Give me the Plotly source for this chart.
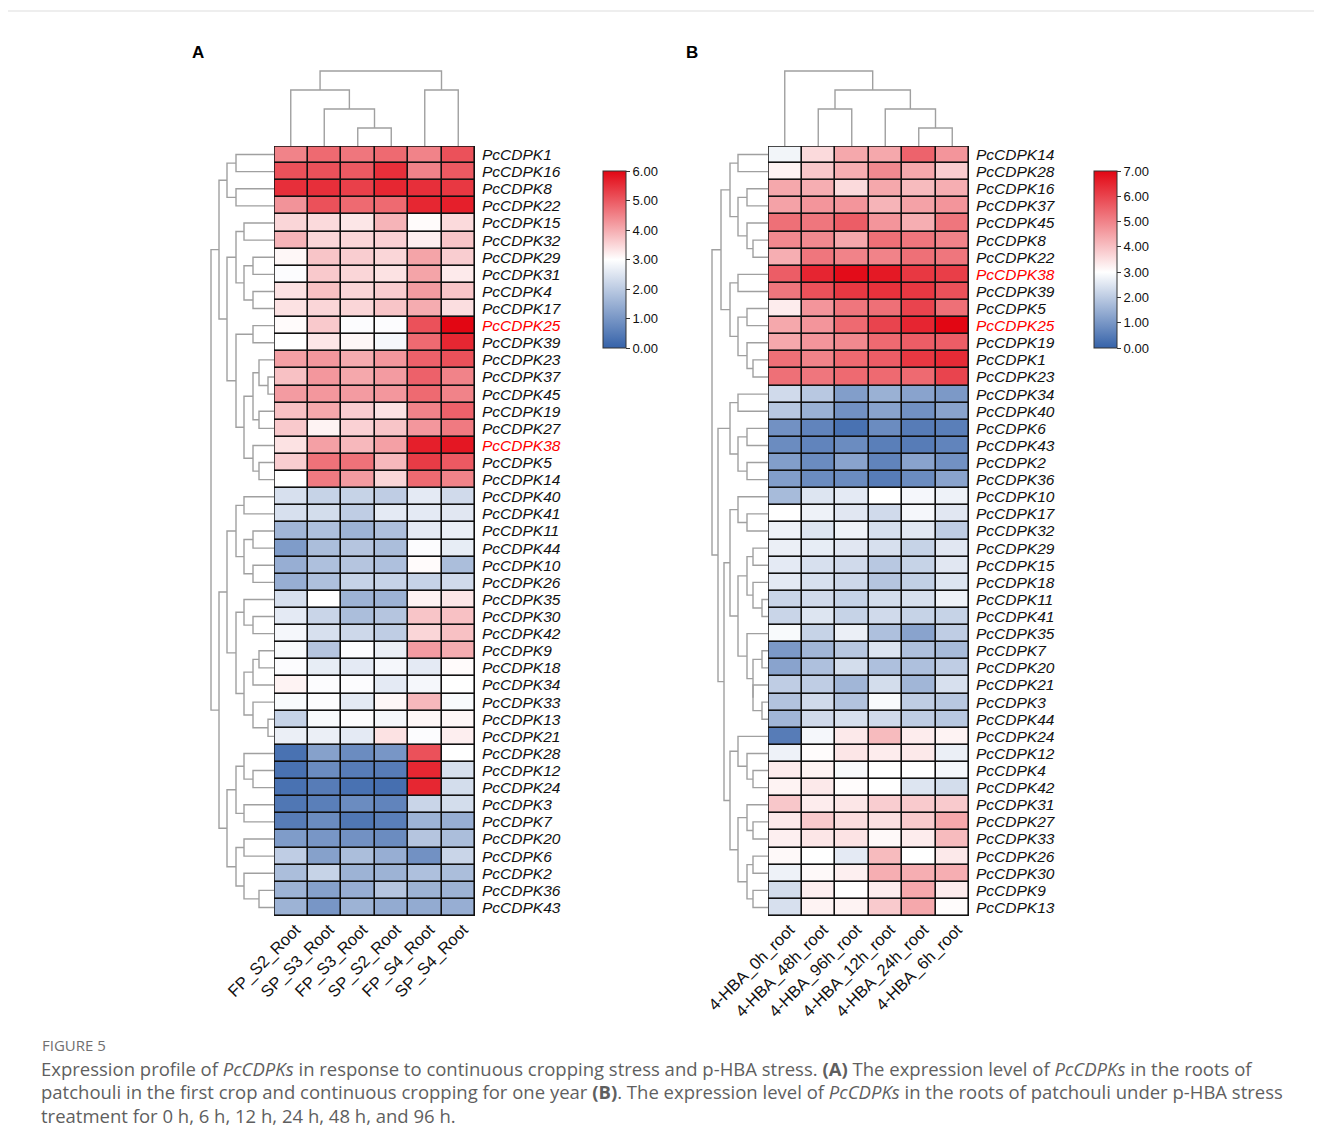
import plotly.graph_objects as go

# ---------------- DATA ----------------
genes_A = ["PcCDPK1", "PcCDPK16", "PcCDPK8", "PcCDPK22", "PcCDPK15", "PcCDPK32", "PcCDPK29", "PcCDPK31",
           "PcCDPK4", "PcCDPK17", "PcCDPK25", "PcCDPK39", "PcCDPK23", "PcCDPK37", "PcCDPK45", "PcCDPK19",
           "PcCDPK27", "PcCDPK38", "PcCDPK5", "PcCDPK14", "PcCDPK40", "PcCDPK41", "PcCDPK11", "PcCDPK44",
           "PcCDPK10", "PcCDPK26", "PcCDPK35", "PcCDPK30", "PcCDPK42", "PcCDPK9", "PcCDPK18", "PcCDPK34",
           "PcCDPK33", "PcCDPK13", "PcCDPK21", "PcCDPK28", "PcCDPK12", "PcCDPK24", "PcCDPK3", "PcCDPK7",
           "PcCDPK20", "PcCDPK6", "PcCDPK2", "PcCDPK36", "PcCDPK43"]
samples_A = ["FP_S2_Root", "SP_S3_Root", "FP_S3_Root", "SP_S2_Root", "FP_S4_Root", "SP_S4_Root"]
values_A = [
    [4.5, 4.8, 4.65, 4.8, 4.5, 5.1],
    [5.1, 5.1, 5.0, 5.5, 4.5, 5.0],
    [5.5, 5.5, 5.3, 5.6, 5.5, 5.4],
    [4.3, 5.1, 4.8, 4.8, 5.6, 5.7],
    [3.5, 3.45, 3.3, 3.9, 3.05, 3.45],
    [3.9, 3.5, 3.5, 3.55, 3.2, 3.7],
    [3.1, 3.7, 3.6, 3.5, 4.1, 3.6],
    [2.95, 3.65, 3.5, 3.35, 4.1, 3.25],
    [3.35, 3.75, 3.5, 3.6, 4.2, 3.7],
    [3.35, 3.5, 3.5, 3.7, 4.0, 3.4],
    [3.05, 3.65, 2.95, 2.95, 5.1, 6.0],
    [3.0, 3.3, 3.1, 2.85, 4.8, 5.6],
    [4.15, 4.25, 4.0, 4.25, 4.9, 5.1],
    [3.75, 4.25, 4.05, 4.2, 4.9, 4.5],
    [4.2, 4.25, 4.2, 4.25, 4.8, 4.5],
    [3.75, 4.05, 3.6, 3.35, 4.5, 4.9],
    [3.65, 3.15, 3.55, 3.7, 4.25, 4.6],
    [3.35, 4.15, 3.85, 4.15, 5.7, 5.8],
    [3.6, 4.7, 4.7, 3.85, 5.35, 5.0],
    [3.0, 4.6, 4.2, 3.5, 4.8, 4.5],
    [2.4, 2.15, 2.15, 2.05, 2.6, 2.3],
    [2.4, 2.35, 2.05, 2.6, 2.6, 2.55],
    [1.6, 1.8, 1.55, 1.8, 2.6, 2.7],
    [1.1, 1.75, 1.9, 1.75, 2.95, 2.65],
    [1.45, 1.8, 1.9, 1.8, 3.05, 1.75],
    [1.45, 1.8, 2.15, 2.15, 2.15, 2.3],
    [2.4, 3.0, 1.55, 1.55, 3.15, 3.3],
    [2.6, 2.2, 1.75, 1.9, 3.7, 3.75],
    [2.85, 2.4, 2.25, 2.05, 3.5, 3.75],
    [2.9, 1.9, 2.95, 2.7, 4.2, 4.0],
    [2.95, 2.65, 2.6, 2.85, 2.6, 3.05],
    [3.15, 2.95, 2.95, 2.6, 2.85, 3.0],
    [2.9, 2.95, 2.6, 3.1, 3.85, 2.9],
    [2.15, 2.9, 2.95, 2.85, 3.1, 3.1],
    [2.7, 2.7, 2.6, 3.35, 2.95, 3.2],
    [0.3, 1.2, 0.8, 1.0, 5.1, 3.0],
    [0.3, 0.8, 0.5, 0.5, 5.6, 2.4],
    [0.3, 0.5, 0.3, 0.25, 5.6, 2.35],
    [0.4, 0.55, 0.8, 0.65, 2.2, 2.35],
    [0.5, 0.8, 0.4, 0.55, 1.55, 1.45],
    [1.1, 1.0, 0.9, 0.8, 1.9, 1.75],
    [2.05, 1.2, 1.75, 1.45, 0.9, 2.2],
    [1.75, 2.15, 1.55, 1.55, 1.8, 1.75],
    [1.55, 1.2, 1.45, 1.9, 1.55, 1.55],
    [1.55, 1.0, 1.55, 1.4, 1.4, 1.45],
]

genes_B = ["PcCDPK14", "PcCDPK28", "PcCDPK16", "PcCDPK37", "PcCDPK45", "PcCDPK8", "PcCDPK22", "PcCDPK38",
           "PcCDPK39", "PcCDPK5", "PcCDPK25", "PcCDPK19", "PcCDPK1", "PcCDPK23", "PcCDPK34", "PcCDPK40",
           "PcCDPK6", "PcCDPK43", "PcCDPK2", "PcCDPK36", "PcCDPK10", "PcCDPK17", "PcCDPK32", "PcCDPK29",
           "PcCDPK15", "PcCDPK18", "PcCDPK11", "PcCDPK41", "PcCDPK35", "PcCDPK7", "PcCDPK20", "PcCDPK21",
           "PcCDPK3", "PcCDPK44", "PcCDPK24", "PcCDPK12", "PcCDPK4", "PcCDPK42", "PcCDPK31", "PcCDPK27",
           "PcCDPK33", "PcCDPK26", "PcCDPK30", "PcCDPK9", "PcCDPK13"]
samples_B = ["4-HBA_0h_root", "4-HBA_48h_root", "4-HBA_96h_root", "4-HBA_12h_root", "4-HBA_24h_root",
             "4-HBA_6h_root"]
values_B = [
    [2.8, 3.6, 4.4, 4.4, 5.5, 4.7],
    [3.2, 3.9, 4.3, 4.9, 4.4, 3.8],
    [4.4, 4.3, 3.6, 4.4, 4.1, 4.3],
    [4.5, 4.7, 4.7, 4.2, 4.5, 4.7],
    [5.3, 5.2, 5.6, 4.7, 4.3, 5.2],
    [4.9, 4.9, 4.4, 5.3, 5.2, 5.0],
    [4.3, 5.2, 5.0, 5.0, 5.3, 5.2],
    [5.6, 6.5, 6.9, 6.7, 6.2, 6.1],
    [5.2, 5.8, 6.2, 6.3, 6.2, 5.8],
    [3.3, 4.7, 5.2, 5.3, 6.0, 5.3],
    [4.4, 4.7, 5.4, 6.0, 6.5, 7.0],
    [4.4, 4.7, 4.9, 5.4, 5.6, 5.6],
    [5.3, 5.0, 5.4, 5.6, 6.2, 6.4],
    [5.3, 5.2, 5.4, 5.4, 5.4, 6.0],
    [2.3, 1.95, 1.15, 1.5, 1.25, 1.05],
    [1.95, 1.5, 0.9, 1.25, 0.9, 1.25],
    [0.9, 0.65, 0.3, 0.8, 0.5, 0.55],
    [0.8, 0.65, 0.8, 0.55, 0.5, 0.65],
    [1.15, 0.8, 1.25, 0.65, 1.25, 0.9],
    [1.15, 0.8, 0.8, 0.5, 0.8, 1.25],
    [1.7, 2.5, 2.6, 3.0, 2.85, 2.75],
    [3.0, 2.75, 2.55, 2.3, 2.85, 2.55],
    [2.75, 2.5, 2.75, 2.4, 2.55, 2.05],
    [2.7, 2.65, 2.55, 2.4, 2.15, 2.55],
    [2.6, 2.4, 2.3, 1.95, 2.15, 2.55],
    [2.6, 2.4, 2.25, 1.9, 2.1, 2.5],
    [2.2, 2.3, 2.15, 2.35, 2.4, 2.75],
    [2.2, 2.5, 2.15, 2.3, 2.15, 2.15],
    [2.9, 2.15, 2.7, 1.8, 1.25, 2.05],
    [1.05, 1.6, 1.95, 2.5, 1.8, 1.7],
    [1.25, 1.8, 2.35, 1.8, 1.8, 2.05],
    [2.05, 2.05, 1.6, 2.35, 1.6, 2.4],
    [1.85, 2.3, 1.85, 2.9, 2.05, 1.95],
    [1.6, 2.3, 2.4, 2.3, 2.05, 1.95],
    [0.5, 2.85, 3.35, 4.1, 3.3, 3.2],
    [2.75, 3.05, 3.4, 3.3, 3.35, 2.7],
    [3.3, 3.2, 2.9, 3.0, 3.0, 2.85],
    [3.2, 3.35, 3.05, 3.0, 2.5, 2.35],
    [3.9, 3.3, 3.4, 3.8, 3.85, 3.85],
    [3.35, 3.85, 3.55, 3.5, 3.85, 4.4],
    [3.25, 3.4, 3.45, 3.1, 3.3, 4.1],
    [3.1, 3.0, 2.6, 4.1, 3.0, 3.35],
    [2.75, 3.1, 3.25, 4.3, 4.3, 4.3],
    [2.35, 3.25, 3.0, 3.3, 4.4, 3.3],
    [2.4, 3.2, 3.2, 3.85, 4.4, 3.05],
]

highlight_genes = ["PcCDPK25", "PcCDPK38"]
colorbar_ticks_A = [0, 1, 2, 3, 4, 5, 6]
colorbar_ticks_B = [0, 1, 2, 3, 4, 5, 6, 7]

# Dendrograms: (merge height, left, right); integers are leaf row/column indices (0-based)
row_tree_A = (63,
    (55,
        (47, (38, 0, 1), (38, 2, 3)),
        (47,
            (38, (30, 4, 5), (30, (21, 6, 7), (21, 8, 9))),
            (38, (21, 10, 11),
                (30, (21, (15, 12, (6, 13, 14)), (15, 15, 16)), (21, 17, (15, 18, 19)))))),
    (55,
        (47,
            (38, (30, 20, 21), (30, (21, 22, 23), (21, 24, 25))),
            (38, (30, 26, (21, 27, 28)), (30, (21, (15, 29, 30), 31), (21, 32, (6, 33, 34))))),
        (47,
            (38, (30, 35, (21, 36, 37)), (30, 38, 39)),
            (38, (30, 40, 41), (30, 42, (15, 43, 44))))))
col_tree_A = (75, (56, 0, (37, 1, (18, 2, 3))), (56, 4, 5))

row_tree_B = (56,
    (47,
        (38, (30, 0, 1), (30, (21, 2, 3), (21, 4, (15, 5, 6)))),
        (38, (30, 7, 8), (30, (21, 9, 10), (21, 11, (15, 12, 13))))),
    (50,
        (38, (30, 14, 15), (30, (21, 16, 17), (21, 18, 19))),
        (44,
            (38, (30, 20, (21, 21, 22)),
                (30, (21, (15, 23, 24), (15, 25, (6, 26, 27))), (21, 28, (15, (6, 29, 30), (15, 31, (6, 32, 33)))))),
            (38, (30, 34, (21, 35, (15, 36, 37))),
                (30, (21, 38, (15, 39, 40)), (21, (15, 41, 42), (15, 43, 44)))))))
col_tree_B = (75, 0, (56, (37, 1, 2), (37, 3, (18, 4, 5))))

# ---------------- LAYOUT HELPERS ----------------
W, H = 1306, 1132   # figure size (page has 8px body margin)
OFF = 8


def px(X):
    return (X - OFF) / W


def py(Y):
    return 1 - (Y - OFF) / H


def dendro(tree):
    """Return (position, height, segments-pos, segments-height)."""
    if isinstance(tree, int):
        return float(tree), 0.0, [], []
    h, l, r = tree
    pl, hl, sl_p, sl_h = dendro(l)
    pr, hr, sr_p, sr_h = dendro(r)
    segp = sl_p + sr_p + [pl, pl, pr, pr, None]
    segh = sl_h + sr_h + [hl, h, h, hr, None]
    return (pl + pr) / 2, h, segp, segh


def labels(genes):
    out = []
    for g in genes:
        if g in highlight_genes:
            out.append(f"<span style='color:#ff0000'><i>{g}</i></span>")
        else:
            out.append(f"<i>{g}</i>")
    return out


BLUE, WHITE, RED = "#3562a9", "#ffffff", "#e20613"
FONT = "Arial, Liberation Sans, sans-serif"
DCOL = "#a0a0a0"

fig = go.Figure()

panels = [
    dict(genes=genes_A, samples=samples_A, vals=values_A, rt=row_tree_A, ct=col_tree_A, zmax=6,
         ticks=colorbar_ticks_A, hx0=274, hx1=475, dx0=200, cbx=603,
         ax=("x", "y", "x2", "y2"), names=("xaxis", "yaxis", "xaxis2", "yaxis2")),
    dict(genes=genes_B, samples=samples_B, vals=values_B, rt=row_tree_B, ct=col_tree_B, zmax=7,
         ticks=colorbar_ticks_B, hx0=768, hx1=969, dx0=700, cbx=1094,
         ax=("x3", "y3", "x4", "y4"), names=("xaxis3", "yaxis3", "xaxis4", "yaxis4")),
]
HY0, HY1 = 146, 916
CY0 = 60

for p in panels:
    xa, ya, xa2, ya2 = p["ax"]
    n_r, n_c = len(p["genes"]), len(p["samples"])
    mid = 3 / p["zmax"]
    fig.add_trace(go.Heatmap(
        z=p["vals"], x=list(range(n_c)), y=list(range(n_r)),
        zmin=0, zmax=p["zmax"],
        colorscale=[[0, BLUE], [mid, WHITE], [1, RED]],
        xgap=1.6, ygap=1.6,
        xaxis=xa, yaxis=ya, hoverinfo="skip",
        colorbar=dict(x=px(p["cbx"]), xanchor="left", y=py(171), yanchor="top",
                      len=177, lenmode="pixels", thickness=23, xpad=0, ypad=0,
                      outlinewidth=1, outlinecolor="#333",
                      tickvals=p["ticks"], ticktext=[f"{t:.2f}" for t in p["ticks"]],
                      ticks="outside", ticklen=4, tickcolor="#333",
                      tickfont=dict(family=FONT, size=13, color="#111")),
    ))
    # row dendrogram
    _, _, sp, sh = dendro(p["rt"])
    fig.add_trace(go.Scatter(x=sh, y=sp, mode="lines", line=dict(color=DCOL, width=1.4),
                             xaxis=xa2, yaxis=ya, hoverinfo="skip", showlegend=False))
    # column dendrogram
    _, _, sp, sh = dendro(p["ct"])
    fig.add_trace(go.Scatter(x=sp, y=sh, mode="lines", line=dict(color=DCOL, width=1.4),
                             xaxis=xa, yaxis=ya2, hoverinfo="skip", showlegend=False))

    nx, ny, nx2, ny2 = p["names"]
    fig.layout[nx] = dict(domain=[px(p["hx0"]), px(p["hx1"])], range=[-0.5, n_c - 0.5], anchor=ya,
                          tickvals=list(range(n_c)), ticktext=p["samples"], tickangle=-45,
                          ticklabelshift=5,
                          tickfont=dict(family=FONT, size=16.5, color="#111"), automargin=False,
                          showgrid=False, zeroline=False, showline=False, ticks="")
    fig.layout[ny] = dict(domain=[py(HY1), py(HY0)], range=[n_r - 0.5, -0.5], anchor=xa, side="right",
                          tickvals=list(range(n_r)), ticktext=labels(p["genes"]),
                          tickfont=dict(family=FONT, size=15.5, color="#111"),
                          ticklabelstandoff=6, automargin=False,
                          showgrid=False, zeroline=False, showline=False, ticks="")
    dw = p["hx0"] - p["dx0"]
    fig.layout[nx2] = dict(domain=[px(p["dx0"]), px(p["hx0"])], range=[dw, 0], anchor=ya, visible=False,
                           automargin=False)
    fig.layout[ny2] = dict(domain=[py(HY0), py(CY0)], range=[0, HY0 - CY0], anchor=xa, visible=False,
                           automargin=False)

    # black background for cell borders and outline
    fig.add_shape(type="rect", xref=xa, yref=ya, x0=-0.5, x1=n_c - 0.5, y0=-0.5, y1=n_r - 0.5,
                  fillcolor="#111", line=dict(color="#111", width=1.5), layer="below")
    fig.add_shape(type="rect", xref=xa, yref=ya, x0=-0.5, x1=n_c - 0.5, y0=-0.5, y1=n_r - 0.5,
                  fillcolor="rgba(0,0,0,0)", line=dict(color="#111", width=1.5), layer="above")

# panel letters
for lab, X in (("A", 198), ("B", 692)):
    fig.add_annotation(x=px(X), y=py(53), xref="paper", yref="paper", text=f"<b>{lab}</b>", showarrow=False,
                       xanchor="center", yanchor="middle", font=dict(family=FONT, size=17, color="#000"))

# frame line at top
fig.add_shape(type="line", xref="paper", yref="paper", x0=0, x1=1, y0=py(11), y1=py(11),
              line=dict(color="#dddddd", width=1))

# caption
CAP = "Open Sans, Noto Sans, sans-serif"
CCOL = "#5f5f5f"
fig.add_annotation(x=px(40), y=py(1045), xref="paper", yref="paper", xanchor="left", yanchor="middle",
                   text="FIGURE 5", showarrow=False, font=dict(family=CAP, size=15, color="#707070"))
cap_lines = [
    "Expression profile of <i>PcCDPKs</i> in response to continuous cropping stress and p-HBA stress. "
    "<b>(A)</b> The expression level of <i>PcCDPKs</i> in the roots of",
    "patchouli in the first crop and continuous cropping for one year <b>(B)</b>. The expression level of "
    "<i>PcCDPKs</i> in the roots of patchouli under p-HBA stress",
    "treatment for 0 h, 6 h, 12 h, 24 h, 48 h, and 96 h.",
]
for i, t in enumerate(cap_lines):
    fig.add_annotation(x=px(39), y=py(1068 + 23.5 * i), xref="paper", yref="paper", xanchor="left",
                       yanchor="middle", text=t, showarrow=False, font=dict(family=CAP, size=18.5, color=CCOL))

fig.update_layout(width=W, height=H, margin=dict(l=0, r=0, t=0, b=0, autoexpand=False),
                  paper_bgcolor="white", plot_bgcolor="white", showlegend=False)

fig.write_html("out.html")
